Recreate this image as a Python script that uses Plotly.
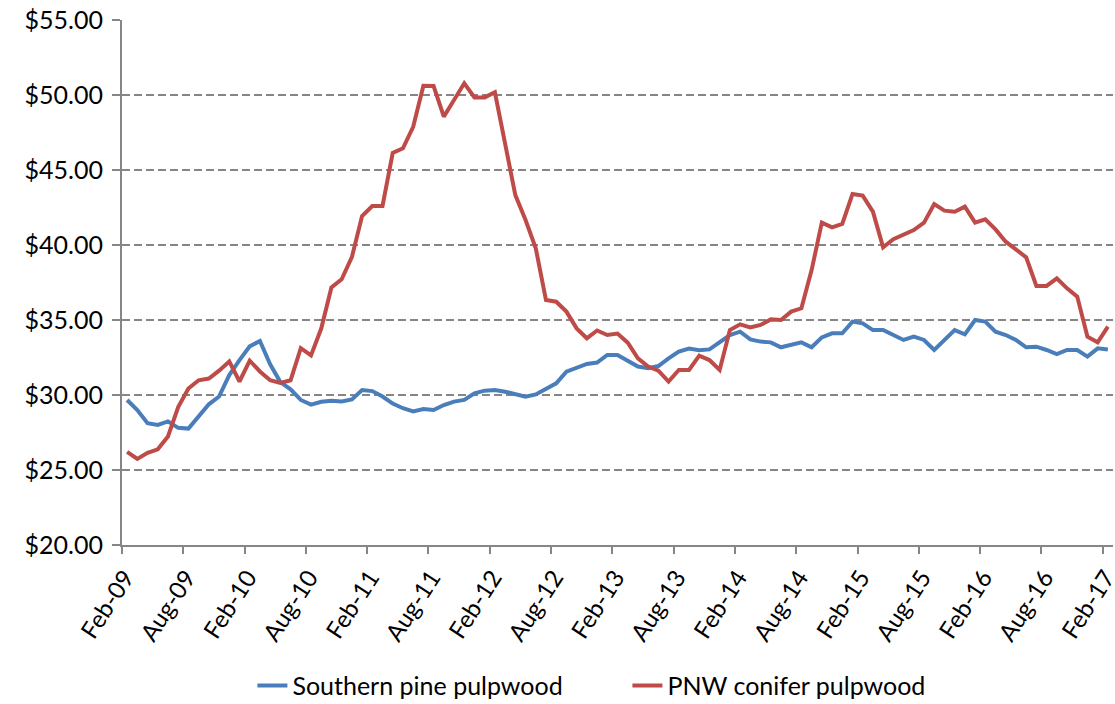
import pandas as pd
import plotly.graph_objects as go

# monthly categories Feb-09 .. Feb-17
months = [d.strftime("%b-%y") for d in pd.date_range("2009-02-01", periods=97, freq="MS")]

southern_pine = [
    29.67, 29.00, 28.12, 28.00, 28.24, 27.81, 27.76, 28.60, 29.38, 29.90,
    31.33, 32.33, 33.24, 33.60, 32.05, 30.86, 30.38, 29.67, 29.36, 29.55,
    29.62, 29.57, 29.70, 30.33, 30.26, 29.90, 29.43, 29.12, 28.90, 29.07,
    29.00, 29.33, 29.56, 29.67, 30.11, 30.29, 30.33, 30.22, 30.04, 29.89,
    30.04, 30.44, 30.78, 31.56, 31.78, 32.07, 32.16, 32.67, 32.67, 32.30,
    31.90, 31.78, 31.93, 32.44, 32.89, 33.10, 32.98, 33.04, 33.56, 34.00,
    34.22, 33.71, 33.56, 33.51, 33.18, 33.33, 33.51, 33.18, 33.84, 34.11,
    34.11, 34.89, 34.78, 34.33, 34.33, 34.00, 33.67, 33.89, 33.67, 33.00,
    33.67, 34.33, 34.04, 35.00, 34.89, 34.22, 34.00, 33.67, 33.18, 33.22,
    33.00, 32.73, 33.00, 33.00, 32.56, 33.11, 33.04,
]

pnw_conifer = [
    26.21, 25.74, 26.14, 26.38, 27.24, 29.19, 30.43, 30.98, 31.10, 31.62,
    32.24, 30.90, 32.29, 31.57, 30.98, 30.81, 30.98, 33.12, 32.64, 34.43,
    37.17, 37.71, 39.19, 41.93, 42.60, 42.60, 46.14, 46.45, 47.88, 50.62,
    50.60, 48.56, 49.67, 50.78, 49.84, 49.84, 50.18, 46.78, 43.33, 41.67,
    39.78, 36.33, 36.22, 35.56, 34.44, 33.78, 34.30, 34.00, 34.10, 33.49,
    32.44, 31.90, 31.62, 30.90, 31.67, 31.67, 32.62, 32.33, 31.67, 34.33,
    34.71, 34.51, 34.67, 35.04, 35.00, 35.56, 35.78, 38.33, 41.49, 41.18,
    41.40, 43.40, 43.29, 42.22, 39.84, 40.38, 40.71, 41.00, 41.49, 42.73,
    42.29, 42.22, 42.56, 41.49, 41.71, 41.04, 40.22, 39.67, 39.18, 37.27,
    37.27, 37.78, 37.11, 36.56, 33.89, 33.51, 34.56,
]

x = list(range(len(months)))
label_idx = [i for i, m in enumerate(months) if m[:3] in ("Feb", "Aug")]

FONT = "Lato, 'Open Sans', sans-serif"
AXIS_GREY = "#868686"

fig = go.Figure()
fig.add_trace(go.Scatter(
    x=x, y=southern_pine, mode="lines", name="Southern pine pulpwood",
    line=dict(color="#4A7EBB", width=4),
))
fig.add_trace(go.Scatter(
    x=x, y=pnw_conifer, mode="lines", name="PNW conifer pulpwood",
    line=dict(color="#BE4B48", width=4),
))

fig.update_layout(
    width=1115, height=704,
    margin=dict(l=122, r=2, t=20, b=159, autoexpand=False),
    plot_bgcolor="white",
    paper_bgcolor="white",
    font=dict(family=FONT, size=25, color="black"),
    showlegend=True,
    legend=dict(
        orientation="h", x=0.51, xanchor="center", y=-0.268, yanchor="middle",
        font=dict(size=25), entrywidth=330, bgcolor="rgba(0,0,0,0)",
    ),
    xaxis=dict(
        range=[-0.5, len(months) - 0.5],
        tickmode="array",
        tickvals=label_idx,
        ticktext=[months[i] for i in label_idx],
        tickangle=-57,
        tickfont=dict(size=24),
        ticks="",
        ticklabelshift=-2,
        ticklabelstandoff=7,
        ticklabeloverflow="allow",
        showgrid=False,
        zeroline=False,
        showline=True, linecolor=AXIS_GREY, linewidth=2,
        minor=dict(
            tickmode="array",
            tickvals=[i - 0.5 for i in label_idx],
            ticks="outside", ticklen=7, tickcolor=AXIS_GREY, tickwidth=2,
            showgrid=False,
        ),
    ),
    yaxis=dict(
        range=[20, 55],
        dtick=5,
        tickprefix="$",
        tickformat=".2f",
        ticks="outside", ticklen=8, tickcolor=AXIS_GREY, tickwidth=2,
        ticklabelstandoff=4,
        showgrid=True, gridcolor=AXIS_GREY, gridwidth=1.5, griddash="8px,4px",
        zeroline=False,
        showline=True, linecolor=AXIS_GREY, linewidth=2,
    ),
)

# drop the default body margin so the figure sits at the page origin
fig.write_html(
    "out.html",
    config={"displayModeBar": False},
    post_script="document.body.style.margin='0';",
)
